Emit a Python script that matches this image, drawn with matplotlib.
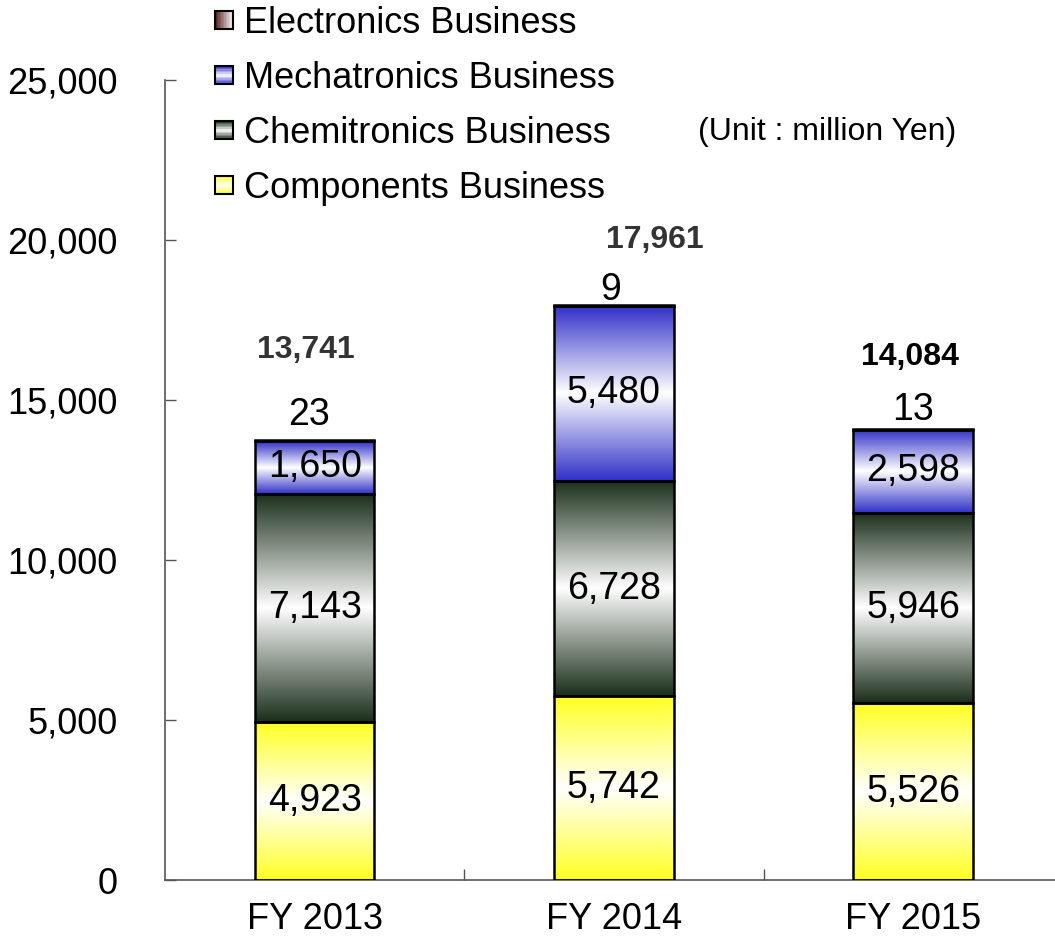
import matplotlib
matplotlib.use("Agg")
import matplotlib.pyplot as plt
import numpy as np
from matplotlib.colors import LinearSegmentedColormap
from matplotlib.patches import Rectangle
from matplotlib.legend_handler import HandlerBase

categories = ["FY 2013", "FY 2014", "FY 2015"]
components = [4923, 5742, 5526]
chemitronics = [7143, 6728, 5946]
mechatronics = [1650, 5480, 2598]
electronics = [23, 9, 13]
totals = ["13,741", "17,961", "14,084"]
series_names = ["Electronics Business", "Mechatronics Business",
                "Chemitronics Business", "Components Business"]

ARIAL = ["Liberation Sans", "DejaVu Sans"]

fig = plt.figure(figsize=(10.55, 9.42), dpi=100)
ax = fig.add_axes([165/1055, 62/942, 890/1055, 800/942])

def grad_cmap(c):
    return LinearSegmentedColormap.from_list("g", [(0, c), (0.5, "#ffffff"), (1, c)])

cmaps = {
    "comp": grad_cmap("#ffff22"),
    "chem": grad_cmap("#1a2e1a"),
    "mech": grad_cmap("#3030c8"),
    "elec": grad_cmap("#5a1a1a"),
}

width = 0.4
x = np.arange(len(categories))
grad = np.linspace(0, 1, 256).reshape(-1, 1)

def draw_segment(xc, bottom, h, cmap):
    ax.imshow(grad, cmap=cmap, aspect="auto", interpolation="bilinear",
              extent=(xc - width/2, xc + width/2, bottom, bottom + h),
              origin="lower", zorder=2)
    ax.add_patch(Rectangle((xc - width/2, bottom), width, h, fill=False,
                           edgecolor="black", linewidth=1.8, zorder=3))

elec_label_pos = [(-0.02, 780), (-0.01, 470), (0.0, 600)]
for i in range(len(categories)):
    b = 0
    for vals, key in [(components, "comp"), (chemitronics, "chem"),
                      (mechatronics, "mech"), (electronics, "elec")]:
        v = vals[i]
        draw_segment(x[i], b, v, cmaps[key])
        if key != "elec":
            ax.text(x[i], b + v/2, f"{v:,}", ha="center", va="center",
                    fontsize=27, family=ARIAL, color="black", zorder=4)
        b += v
    dx, dy = elec_label_pos[i]
    ax.text(x[i] + dx, b + dy, f"{electronics[i]}",
            ha="center", va="center", fontsize=27, family=ARIAL, zorder=4)

total_pos = [(-0.03, 16560, "#333333"), (1.138, 20000, "#333333"), (1.99, 16340, "black")]
for i, (dx, y, c) in enumerate(total_pos):
    ax.text(dx, y, totals[i], ha="center", va="center", fontsize=23,
            fontweight="bold", family=ARIAL, color=c, zorder=4)

ax.set_xlim(-0.5, 2.474)
ax.set_ylim(0, 25000)
ax.set_yticks(range(0, 25001, 5000))
ax.set_yticklabels([f"{v:,}" for v in range(0, 25001, 5000)], family=ARIAL, fontsize=26)
ax.set_xticks(x)
ax.set_xticklabels(categories, family=ARIAL, fontsize=26)
ax.set_xticks([0.5, 1.5], minor=True)
ax.tick_params(axis="x", which="major", length=0, pad=16)
ax.tick_params(axis="x", which="minor", direction="in", length=8, width=1, color="#555555")
ax.tick_params(axis="y", direction="in", length=8, width=1, color="#555555", pad=34)
for s in ["top", "right"]:
    ax.spines[s].set_visible(False)
for s in ["left", "bottom"]:
    ax.spines[s].set_color("#555555")
    ax.spines[s].set_linewidth(1.2)

# legend with gradient squares
class GradHandler(HandlerBase):
    def __init__(self, cmap, horizontal=False):
        super().__init__()
        self.cmap = cmap
        self.horizontal = horizontal
    def create_artists(self, legend, orig_handle, xdescent, ydescent, width_, height_, fontsize, trans):
        arts = []
        n = 12
        s = min(width_, height_) * 1.0
        x0 = xdescent * -1 + (width_ - s) / 2
        y0 = -ydescent + (height_ - s) / 2
        for k in range(n):
            t = (k + 0.5) / n
            col = self.cmap(t)
            if self.horizontal:
                r = Rectangle((x0 + s * k / n, y0), s / n + 0.3, s, facecolor=col,
                              edgecolor="none", transform=trans)
            else:
                r = Rectangle((x0, y0 + s * k / n), s, s / n + 0.3, facecolor=col,
                              edgecolor="none", transform=trans)
            arts.append(r)
        arts.append(Rectangle((x0, y0), s, s, fill=False, edgecolor="black",
                              linewidth=1.5, transform=trans))
        return arts

elec_cmap = LinearSegmentedColormap.from_list("e", [(0, "#5a1a1a"), (1, "#ffffff")])
handles = [Rectangle((0, 0), 1, 1) for _ in range(4)]
hmap = {handles[0]: GradHandler(elec_cmap, horizontal=True),
        handles[1]: GradHandler(cmaps["mech"]),
        handles[2]: GradHandler(cmaps["chem"]),
        handles[3]: GradHandler(cmaps["comp"])}
leg = fig.legend(handles, series_names, handler_map=hmap, loc="upper left",
                 bbox_to_anchor=(190/1055, 1.0 + 19/942), frameon=False,
                 prop={"family": ARIAL, "size": 26}, handlelength=0.5, handleheight=0.5,
                 handletextpad=0.3, labelspacing=0.55, borderpad=0.2)

fig.text(698/1055, 1 - 132/942, "(Unit : million Yen)", family=ARIAL, fontsize=23,
         va="center", ha="left")

fig.savefig("out.png", dpi=100)
